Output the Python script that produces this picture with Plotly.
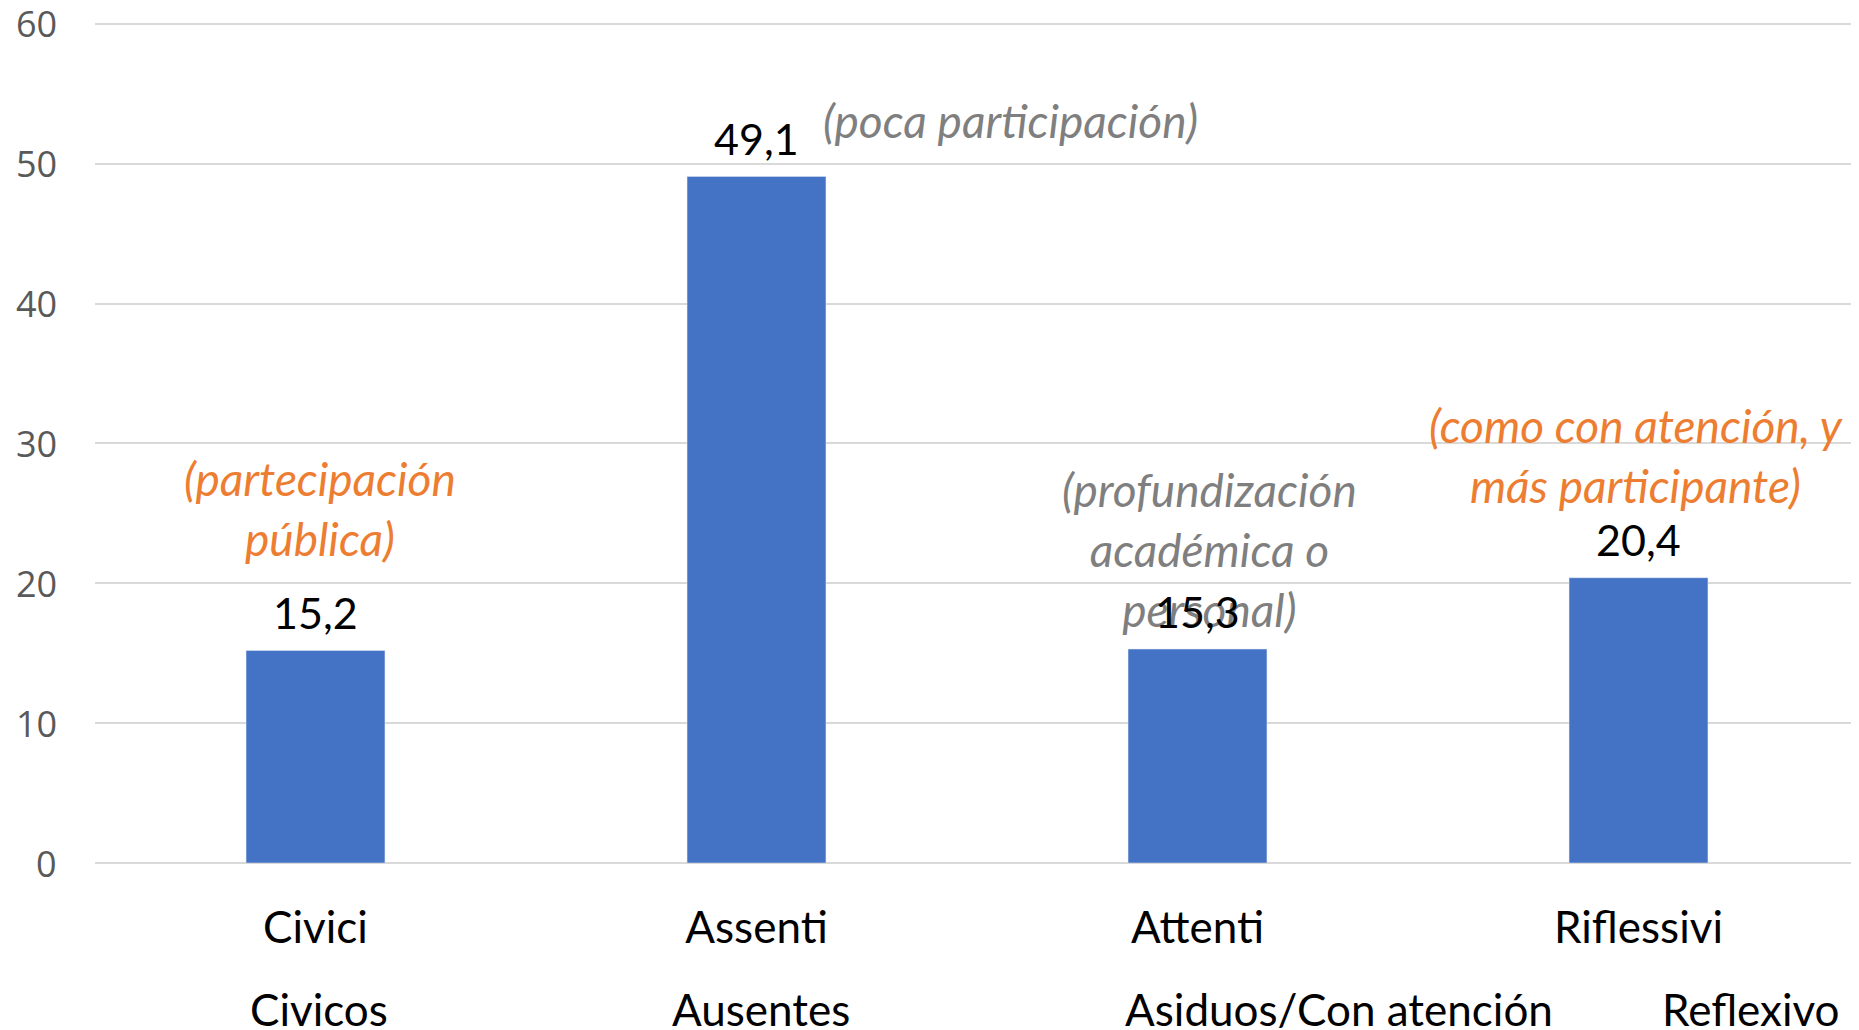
import plotly.graph_objects as go

categories = ["Civici", "Assenti", "Attenti", "Riflessivi"]
translations = ["Civicos", "Ausentes", "Asiduos/Con atención", "Reflexivo"]
values = [15.2, 49.1, 15.3, 20.4]
notes = ["(partecipación<br>pública)", "(poca participación)",
         "(profundización<br>académica o<br>personal)", "(como con atención, y<br>más participante)"]
note_colors = ["#ED7D31", "#7F7F7F", "#7F7F7F", "#ED7D31"]
y_ticks = [0, 10, 20, 30, 40, 50, 60]

# layout-only placement for the notes and second-line labels (category units / axis units)
note_pos = [(0.011, 25.36), (1.576, 53.1), (2.027, 22.39), (2.995, 29.15)]
trans_x = [0.009, 1.011, 2.32, 3.254]

FONT = "Lato"
fig = go.Figure()
fig.add_trace(go.Bar(x=categories, y=values, marker_color="#4472C4", width=0.315,
                     hoverinfo="skip"))

ann = []
# y tick labels as annotations (the top one would otherwise be hidden at the page edge)
for v in y_ticks:
    ann.append(dict(x=0, y=v, xref="paper", yref="y", text=str(v), showarrow=False,
                    xanchor="right", yanchor="middle", xshift=-36,
                    font=dict(family="Open Sans", size=36, color="#595959")))
for i, t in enumerate(notes):
    x, y = note_pos[i]
    ann.append(dict(x=x, y=y, xref="x", yref="y", text=t, showarrow=False,
                    yanchor="middle", xanchor="center", align="center",
                    font=dict(family=FONT, size=46, color=note_colors[i], style="italic")))
for i, t in enumerate(translations):
    ann.append(dict(x=trans_x[i], y=0, xref="x", yref="y", yshift=-146, text=t, showarrow=False,
                    yanchor="middle", xanchor="center",
                    font=dict(family=FONT, size=44, color="#000000")))
for c, v in zip(categories, values):
    ann.append(dict(x=c, y=v, xref="x", yref="y", text=f"{v:.1f}".replace(".", ","),
                    showarrow=False, yanchor="middle", yshift=38,
                    font=dict(family=FONT, size=43, color="#000000")))

# page body adds an 8px offset, so the figure is sized 8px smaller each way
fig.update_layout(
    width=1851, height=1022,
    margin=dict(l=87, r=0, t=2, b=167),
    plot_bgcolor="white", paper_bgcolor="white",
    showlegend=False,
    annotations=ann,
    xaxis=dict(showgrid=False, showline=False, ticks="", ticklabelstandoff=35, automargin=False,
               tickfont=dict(family=FONT, size=44, color="#000000")),
    yaxis=dict(range=[0, 61], tickvals=y_ticks, showticklabels=False, showgrid=True,
               gridcolor="#D9D9D9", gridwidth=2,
               zeroline=True, zerolinecolor="#D9D9D9", zerolinewidth=2, showline=False,
               automargin=False),
)
fig.write_html("out.html")
